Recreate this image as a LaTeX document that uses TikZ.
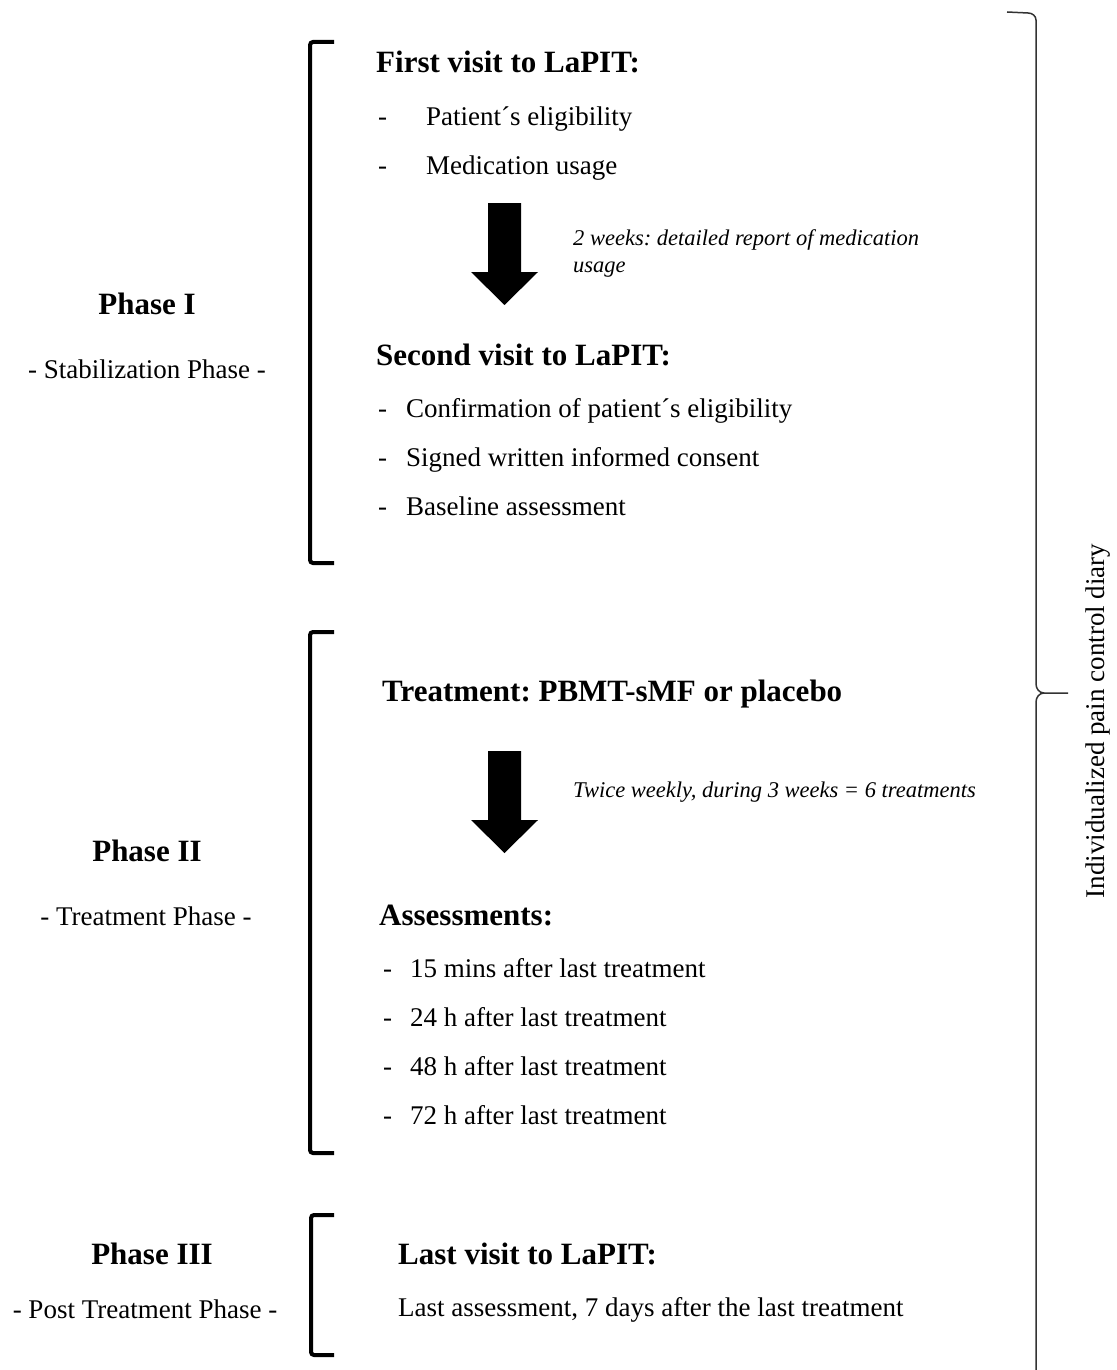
\documentclass[tikz,border=0pt]{standalone}
\usepackage{fontspec}
\setmainfont{Liberation Serif}
\usetikzlibrary{positioning}
\frenchspacing

\begin{document}
\begin{tikzpicture}[
            x=1pt, y=-1pt,
            head/.style  ={anchor=base west, inner sep=0pt, font=\fontsize{31}{36}\selectfont\bfseries},
            item/.style  ={anchor=base west, inner sep=0pt, font=\fontsize{27}{32}\selectfont},
            note/.style  ={anchor=base west, inner sep=0pt, font=\fontsize{22.5}{27}\selectfont\itshape},
            phase/.style ={anchor=base, inner sep=0pt, font=\fontsize{31}{36}\selectfont\bfseries},
            sub/.style   ={anchor=base, inner sep=0pt, font=\fontsize{27}{32}\selectfont},
            brack/.style ={line width=4pt, rounded corners=3pt},
            brace/.style ={line width=1.5pt, draw=black!80},
            blk/.style   ={fill=black, draw=none}
        ]
        \useasboundingbox (0,0) rectangle (1116,1370);

        % left column: phase names
        \node[phase] (ph1) at (147,314) {Phase I};
        \node[sub]   (ph1s) at (147,378) {- Stabilization Phase -};
        \node[phase] (ph2) at (147,861) {Phase II};
        \node[sub]   (ph2s) at (146,925) {- Treatment Phase -};
        \node[phase] (ph3) at (152,1264) {Phase III};
        \node[sub]   (ph3s) at (145,1318) {- Post Treatment Phase -};

        % brackets
        \draw[brack] (334,42) -- (310,42) -- (310,563) -- (334,563);
        \draw[brack] (334,632) -- (310,632) -- (310,1153) -- (334,1153);
        \draw[brack] (334,1215) -- (311,1215) -- (311,1355) -- (334,1355);

        % phase I
        \node[head] (v1) at (376,73) {First visit to LaPIT:};
        \node[item] (v1d1) at (378,125) {-};
        \node[item] (v1a) at (426,125) {Patient´s eligibility};
        \node[item] (v1d2) at (378,174) {-};
        \node[item] (v1b) at (426,174) {Medication usage};

        \node[note] (n1) at (573,245) {2 weeks: detailed report of medication};
        \node[note] (n1b) at (573,272) {usage};

        \node[head] (v2) at (376,365) {Second visit to LaPIT:};
        \foreach \t [count=\i from 0] in {Confirmation of patient´s eligibility,
                 Signed written informed consent, Baseline assessment}{
            \node[item] (v2d\i) at (378,{417+49*\i}) {-};
            \node[item] (v2t\i) at (406,{417+49*\i}) {\t};
        }

        % phase II
        \node[head] (tr) at (382,701) {Treatment: PBMT-sMF or placebo};
        \node[note] (n2) at (573,797) {Twice weekly, during 3 weeks = 6 treatments};

        \node[head] (as) at (379,925) {Assessments:};
        \foreach \t [count=\i from 0] in {15 mins after last treatment,
                 24 h after last treatment, 48 h after last treatment,
                 72 h after last treatment}{
            \node[item] (asd\i) at (383,{977+49*\i}) {-};
            \node[item] (ast\i) at (410,{977+49*\i}) {\t};
        }

        % phase III
        \node[head] (v3) at (398,1264) {Last visit to LaPIT:};
        \node[item] (v3a) at (398,1316) {Last assessment, 7 days after the last treatment};

        % block arrows
        \foreach \t in {203,751}{
            \fill[blk] (488,\t) -- (521,\t) -- (521,{\t+69}) -- (538,{\t+69})
                  -- (504.5,{\t+102}) -- (471,{\t+69}) -- (488,{\t+69}) -- cycle;
        }

        % right brace
        \coordinate (bt) at (1036,20);
        \coordinate (tip) at (1068,693);
        \draw[brace] (1007,12) -- (1028,13) to[out=0,in=90] (bt) -- (1036,684)
              to[out=-90,in=180] (1044,693) -- (tip);
        \draw[brace] (1044,693) to[out=180,in=90] (1036,702) -- (1036,1370);
        \node[sub, anchor=center, rotate=90] (diary) at (1098,721)
              {Individualized pain control diary};

    \end{tikzpicture}
\end{document}
